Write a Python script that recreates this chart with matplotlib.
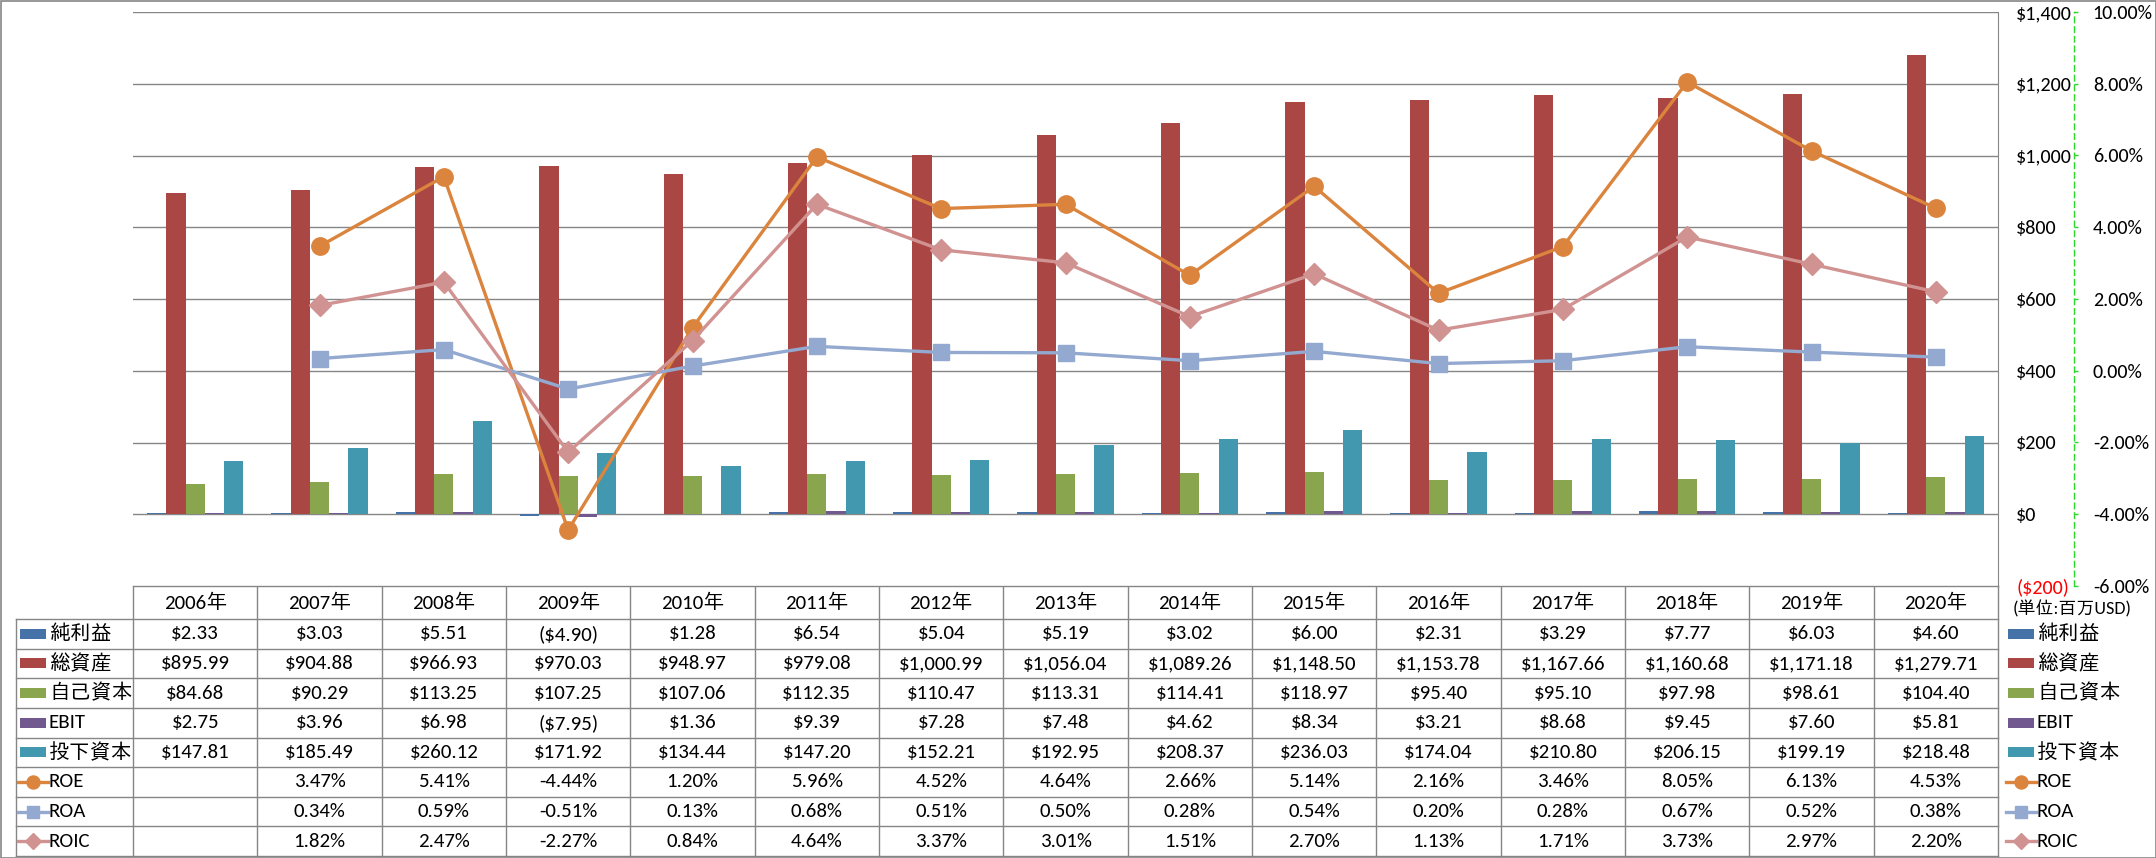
import matplotlib
matplotlib.use('Agg')
import matplotlib.pyplot as plt
from matplotlib.patches import Rectangle
from matplotlib.lines import Line2D
import numpy as np

plt.rcParams['font.family'] = ['Carlito', 'IPAPGothic', 'Noto Sans CJK JP', 'DejaVu Sans']

# data (百万USD / %)
years = ['2006年', '2007年', '2008年', '2009年', '2010年', '2011年', '2012年', '2013年',
         '2014年', '2015年', '2016年', '2017年', '2018年', '2019年', '2020年']
net_income = [2.33, 3.03, 5.51, -4.90, 1.28, 6.54, 5.04, 5.19, 3.02, 6.00, 2.31, 3.29, 7.77, 6.03, 4.60]
total_assets = [895.99, 904.88, 966.93, 970.03, 948.97, 979.08, 1000.99, 1056.04, 1089.26,
                1148.50, 1153.78, 1167.66, 1160.68, 1171.18, 1279.71]
equity = [84.68, 90.29, 113.25, 107.25, 107.06, 112.35, 110.47, 113.31, 114.41, 118.97,
          95.40, 95.10, 97.98, 98.61, 104.40]
ebit = [2.75, 3.96, 6.98, -7.95, 1.36, 9.39, 7.28, 7.48, 4.62, 8.34, 3.21, 8.68, 9.45, 7.60, 5.81]
invested = [147.81, 185.49, 260.12, 171.92, 134.44, 147.20, 152.21, 192.95, 208.37, 236.03,
            174.04, 210.80, 206.15, 199.19, 218.48]
roe = [None, 3.47, 5.41, -4.44, 1.20, 5.96, 4.52, 4.64, 2.66, 5.14, 2.16, 3.46, 8.05, 6.13, 4.53]
roa = [None, 0.34, 0.59, -0.51, 0.13, 0.68, 0.51, 0.50, 0.28, 0.54, 0.20, 0.28, 0.67, 0.52, 0.38]
roic = [None, 1.82, 2.47, -2.27, 0.84, 4.64, 3.37, 3.01, 1.51, 2.70, 1.13, 1.71, 3.73, 2.97, 2.20]

usd_ticks = list(range(-200, 1401, 200))
pct_ticks = list(range(-6, 11, 2))

bar_series = [('純利益', net_income, '#4572A7'),
              ('総資産', total_assets, '#AA4643'),
              ('自己資本', equity, '#89A54E'),
              ('EBIT', ebit, '#71588F'),
              ('投下資本', invested, '#4198AF')]
line_series = [('ROE', roe, '#DB843D', 'o', 12.5),
               ('ROA', roa, '#93A9CF', 's', 12),
               ('ROIC', roic, '#D19392', 'D', 11.5)]

GRID = '#868686'
AX_FS = 14.5
TAB_FS = 15


def usd(v):
    return f'(${abs(v):,.0f})' if v < 0 else f'${v:,.0f}'


def usd2(v):
    return f'(${abs(v):,.2f})' if v < 0 else f'${v:,.2f}'


def pct(v):
    return '' if v is None else f'{v:.2f}%'


# layout in pixels
W, H = 2156, 858
PL, PR, PT, PB = 133, 1998, 12, 586
ROW0, ROWB = 619, 856
ROWH = (ROWB - ROW0) / 8
LBL_X = 16
SPINE2_X = 2074

fig = plt.figure(figsize=(W / 100, H / 100), dpi=100)
ax = fig.add_axes([PL / W, 1 - PB / H, (PR - PL) / W, (PB - PT) / H])

x = np.arange(len(years))
bw = 0.155
for i, (name, vals, color) in enumerate(bar_series):
    ax.bar(x + (i - 2) * bw, vals, bw, color=color, zorder=2)

ax.set_xlim(-0.5, len(years) - 0.5)
ax.set_ylim(-200, 1400)
ax.set_xticks([])
ax.grid(axis='y', color=GRID, lw=1)
ax.set_axisbelow(True)
for s in ['top', 'left', 'bottom']:
    ax.spines[s].set_visible(False)
ax.spines['right'].set_color(GRID)

ax2 = ax.twinx()
for name, vals, color, mk, ms in line_series:
    v = np.array([np.nan if a is None else a for a in vals])
    ax2.plot(x, v, color=color, lw=2.4, marker=mk, ms=ms, mfc=color, mec=color, zorder=3)
ax2.set_ylim(-6, 10)
ax2.set_yticks(pct_ticks)
ax2.set_yticklabels([f'{t:.2f}%' for t in pct_ticks])
for t, lbl in zip(pct_ticks, ax2.get_yticklabels()):
    lbl.set_color('red' if t < 0 else 'black')
ax2.tick_params(axis='y', direction='out', length=3, width=1, color='#2BD92B', pad=10.5, labelsize=AX_FS)
for s in ['top', 'left', 'bottom']:
    ax2.spines[s].set_visible(False)
ax2.spines['right'].set_position(('axes', (SPINE2_X - PL) / (PR - PL)))
ax2.spines['right'].set_color('#2BD92B')
ax2.spines['right'].set_linestyle((0, (4, 3)))
ax2.spines['right'].set_linewidth(1)

# primary ($) axis labels sit on the right, next to its spine (twinx resets this)
ax.yaxis.tick_right()
ax.set_yticks(usd_ticks)
ax.set_yticklabels([usd(t) for t in usd_ticks])
for t, lbl in zip(usd_ticks, ax.get_yticklabels()):
    lbl.set_color('red' if t < 0 else 'black')
ax.tick_params(axis='y', length=0, pad=13, labelsize=AX_FS)

# data table under the chart
tab = fig.add_axes([0, 0, 1, 1], zorder=-1)
tab.set_xlim(0, W)
tab.set_ylim(H, 0)
tab.axis('off')
tab.add_patch(Rectangle((0.5, 0.5), W - 1, H - 1, fill=False, ec=GRID, lw=1.2))

colw = (PR - PL) / len(years)
tab.plot([PL, PR], [PB, PB], color=GRID, lw=1)
for j in range(9):
    y = ROW0 + j * ROWH
    tab.plot([LBL_X, PR], [y, y], color=GRID, lw=1)
tab.plot([LBL_X, LBL_X], [ROW0, ROWB], color=GRID, lw=1)
for k in range(len(years) + 1):
    xx = PL + k * colw
    tab.plot([xx, xx], [PB, ROWB], color=GRID, lw=1)

for k, yr in enumerate(years):
    tab.text(PL + (k + 0.5) * colw, (PB + ROW0) / 2, yr, ha='center', va='center', fontsize=TAB_FS)

rows = [(name, [usd2(v) for v in vals]) for name, vals, c in bar_series] + \
       [(name, [pct(v) for v in vals]) for name, vals, c, m, s in line_series]
for j, (name, cells) in enumerate(rows):
    yc = ROW0 + (j + 0.5) * ROWH
    for k, txt in enumerate(cells):
        tab.text(PL + (k + 0.5) * colw, yc, txt, ha='center', va='center', fontsize=TAB_FS)


def legend_key(x0, yc, j):
    if j < len(bar_series):
        tab.add_patch(Rectangle((x0 + 3, yc - 5), 26, 10, color=bar_series[j][2], lw=0))
    else:
        name, vals, color, mk, ms = line_series[j - len(bar_series)]
        tab.add_line(Line2D([x0 + 1, x0 + 31], [yc, yc], color=color, lw=2.4))
        tab.add_line(Line2D([x0 + 16], [yc], marker=mk, ms=ms * 0.75, color=color))


for j, (name, cells) in enumerate(rows):
    yc = ROW0 + (j + 0.5) * ROWH
    legend_key(LBL_X + 1, yc, j)
    tab.text(LBL_X + 33, yc, name, ha='left', va='center', fontsize=TAB_FS)
    legend_key(2005, yc, j)
    tab.text(2037, yc, name, ha='left', va='center', fontsize=TAB_FS)

tab.text(2013, 609, '(単位:百万USD)', ha='left', va='center', fontsize=13)

fig.savefig('out.png', dpi=100)
